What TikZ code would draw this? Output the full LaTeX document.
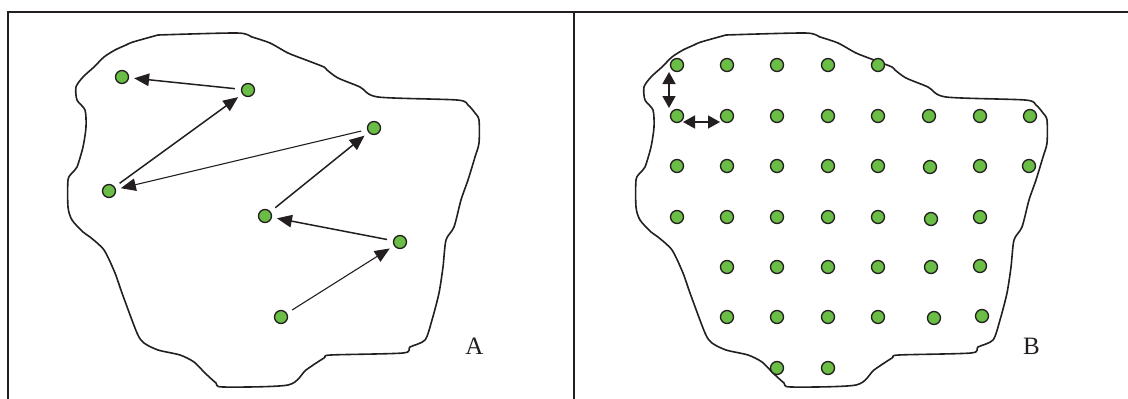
\documentclass[tikz,border=0pt]{standalone}
\usepackage{fontspec}
\setmainfont{Liberation Serif}
\usetikzlibrary{arrows.meta}
\definecolor{dotgreen}{RGB}{106,189,69}
\definecolor{ink}{RGB}{35,31,32}
\tikzset{
  dot/.style={circle,draw=ink,line width=1.3pt,fill=dotgreen,minimum size=13pt,inner sep=0pt},
  frame/.style={draw=ink,line width=2pt},
  blob/.style={draw=ink,line width=1.6pt,line join=round},
  arr/.style={draw=ink,line width=1.5pt,-{Triangle[length=15pt,width=12.5pt]},shorten <=6pt,shorten >=5pt},
  thinarr/.style={arr,line width=1.1pt},
  dbl/.style={draw=ink,line width=1.7pt,{Triangle[length=12pt,width=13pt]}-{Triangle[length=12pt,width=13pt]}},
  lab/.style={font=\fontsize{25}{30}\selectfont,text=ink,inner sep=0pt}
}
\begin{document}
\begin{tikzpicture}[x=1pt,y=-1pt]
\useasboundingbox (0,0) rectangle (1128,399);
% frame
\draw[frame] (7.5,399) -- (7.5,12) -- (1128,12);
\draw[frame] (574,12) -- (574,399);
% blobs
\foreach \s in {0,568}{
\begin{scope}[shift={(\s,0)}]
\draw[blob] plot[smooth,tension=0.45] coordinates {
(158,35) (237,33) (252,37) (270,43) (288,53) (306,60) (324,67) (327,70) (338,78)
(360,87) (378,97) (457,100) (468,105) (475,113) (479,120) (479,143) (475,157)
(468,180) (461,200) (454,227) (446,240) (443,267) (439,293) (432,320) (425,340)
(410,347) (403,353) (331,355) (324,358) (306,370) (288,385) (223,387) (216,383)
(205,373) (194,362) (180,355) (158,350) (144,343) (137,333) (122,293) (115,273)
(104,250) (90,237) (83,232) (72,220) (68,207) (68,180) (72,173) (77,167) (83,147)
(86,127) (85,110) (77,100) (76,87) (83,77) (94,67) (104,57) (115,50) (126,45)
(133,42) (158,35)};
\end{scope}
}
% panel A dots
\node[dot] (a1) at (122,77) {};
\node[dot] (a2) at (248,90) {};
\node[dot] (a3) at (109,191) {};
\node[dot] (a4) at (374,128) {};
\node[dot] (a5) at (265,216) {};
\node[dot] (a6) at (400,242) {};
\node[dot] (a7) at (281,317) {};
\draw[thinarr] (a7) -- (a6);
\draw[arr] (a6) -- (a5);
\draw[arr] (a5) -- (a4);
\draw[thinarr] (a4) -- (a3);
\draw[arr] (a3) -- (a2);
\draw[arr] (a2) -- (a1);
\node[lab] (la) at (474.5,346.5) {A};
% panel B dots
\foreach \x [count=\i] in {677,727,777,828,878}
  \node[dot] (b1\i) at (\x,65) {};
\foreach \x [count=\i] in {677,727,777,828,878,929,980,1030}
  \node[dot] (b2\i) at (\x,116) {};
\foreach \x/\y [count=\i] in {677/166,727/166,777/166,828/166,878/166,930/167,980/166,1029/166}
  \node[dot] (b3\i) at (\x,\y) {};
\foreach \x/\y [count=\i] in {677/217,727/217,777/217,828/217,878/217,931/219,980/217}
  \node[dot] (b4\i) at (\x,\y) {};
\foreach \x/\y [count=\i] in {727/267,777/267,828/267,878/267,931/267,980/266}
  \node[dot] (b5\i) at (\x,\y) {};
\foreach \x/\y [count=\i] in {727/317,777/317,828/317,878/317,934/318,982/316}
  \node[dot] (b6\i) at (\x,\y) {};
\foreach \x [count=\i] in {777,828}
  \node[dot] (b7\i) at (\x,368) {};
% spacing arrows
\coordinate (v1) at (669,72);
\coordinate (v2) at (669,108);
\coordinate (h1) at (683,122);
\coordinate (h2) at (720,122);
\draw[dbl] (v1) -- (v2);
\draw[dbl] (h1) -- (h2);
\node[lab] (lb) at (1031.5,346.5) {B};
\end{tikzpicture}
\end{document}
